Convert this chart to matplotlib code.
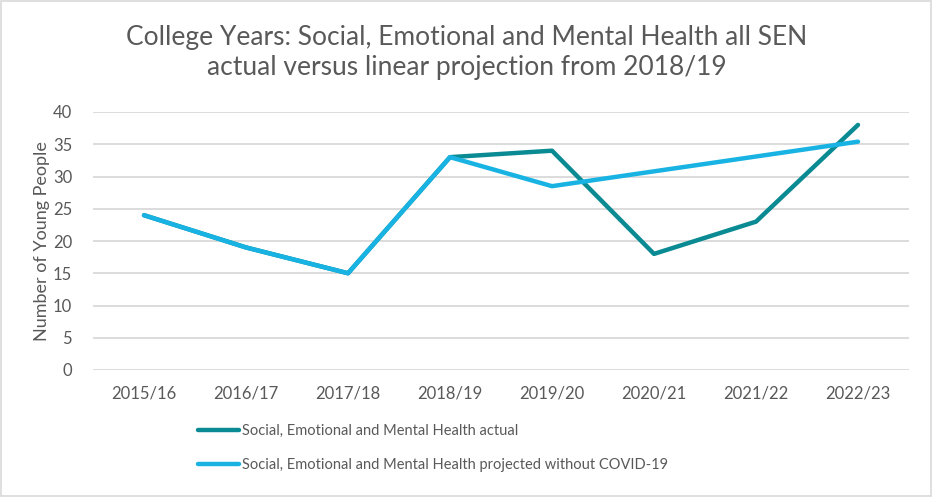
import matplotlib
matplotlib.use('Agg')

import matplotlib.pyplot as plt
from matplotlib.patches import Rectangle

plt.rcParams['font.family'] = ['Lato', 'DejaVu Sans']

years = ['2015/16', '2016/17', '2017/18', '2018/19', '2019/20', '2020/21', '2021/22', '2022/23']
actual = [24, 19, 15, 33, 34, 18, 23, 38]
projected = [24, 19, 15, 33, 28.5, 30.8, 33.1, 35.4]

actual_label = 'Social, Emotional and Mental Health actual'
projected_label = 'Social, Emotional and Mental Health projected without COVID-19'

grey_text = '#595959'
grid_col = '#D9D9D9'

fig = plt.figure(figsize=(9.33, 4.97), dpi=100)
ax = fig.add_axes([93 / 933, 1 - 370 / 497, 816 / 933, 258 / 497])

x = range(len(years))
l1, = ax.plot(x, actual, color='#0A8A92', lw=3.2, solid_capstyle='round', solid_joinstyle='round')
l2, = ax.plot(x, projected, color='#18B3E3', lw=3.2, solid_capstyle='round', solid_joinstyle='round')

ax.set_xlim(-0.5, len(years) - 0.5)
ax.set_ylim(0, 40)
ax.set_yticks(range(0, 41, 5))
ax.set_xticks(list(x))
ax.set_xticklabels(years)
ax.grid(axis='y', color=grid_col, lw=1.3)
ax.set_axisbelow(True)
for s in ax.spines.values():
    s.set_visible(False)
ax.tick_params(length=0, labelsize=12, colors=grey_text)
ax.tick_params(axis='y', pad=15)
ax.tick_params(axis='x', pad=11)

ax.set_ylabel('Number of Young People', fontsize=13, color=grey_text, labelpad=2)

fig.text(0.5, 1 - 37 / 497, 'College Years: Social, Emotional and Mental Health all SEN',
         ha='center', va='center', fontsize=19, color=grey_text)
fig.text(0.5, 1 - 68 / 497, 'actual versus linear projection from 2018/19',
         ha='center', va='center', fontsize=19, color=grey_text)

fig.legend([l1, l2], [actual_label, projected_label], loc='upper left',
           bbox_to_anchor=(198 / 933, 1 - 424 / 497), frameon=False,
           fontsize=10.5, labelcolor=grey_text, handlelength=2.8, handletextpad=0.2,
           labelspacing=1.35, borderpad=0, borderaxespad=0)

fig.patches.append(Rectangle((0.001, 0.002), 0.997, 0.995, transform=fig.transFigure,
                             fill=False, edgecolor=grid_col, lw=1.2))

fig.savefig('out.png', dpi=100)
